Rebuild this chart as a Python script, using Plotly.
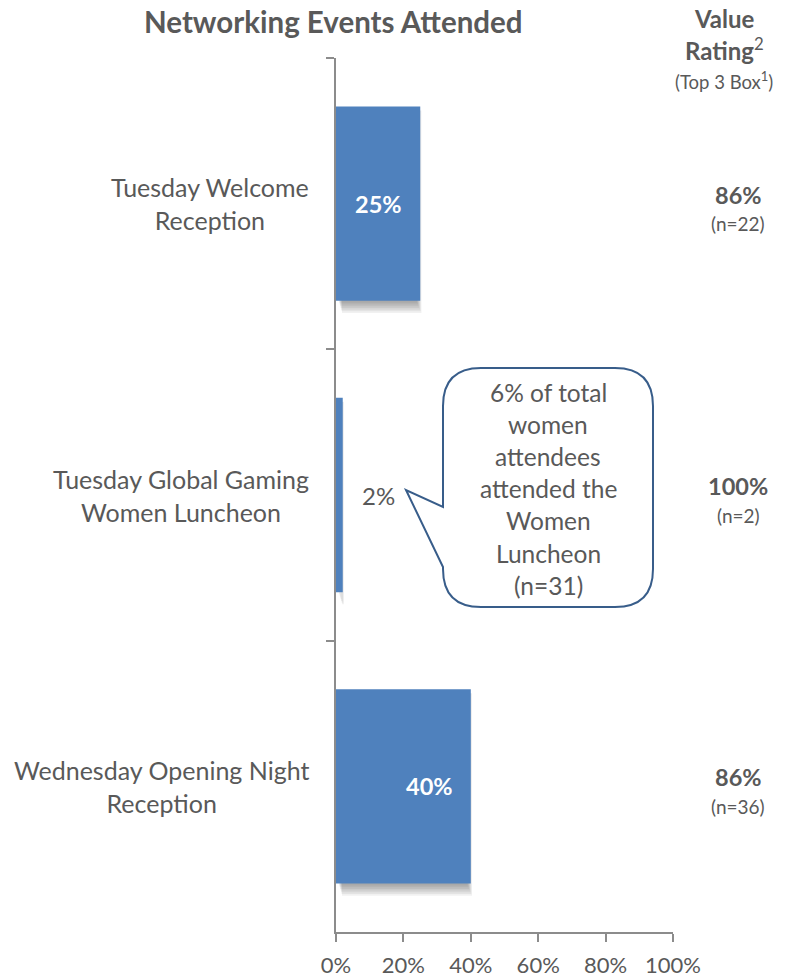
import plotly.graph_objects as go

# Share of attendees at each networking event
events = ["Tuesday Welcome<br>Reception",
          "Tuesday Global Gaming<br>Women Luncheon",
          "Wednesday Opening Night<br>Reception"]
attended = [25, 2, 40]
value_rating = ["86%", "100%", "86%"]
rating_n = ["(n=22)", "(n=2)", "(n=36)"]
x_ticks = [0, 20, 40, 60, 80, 100]
x_tick_text = ["0%", "20%", "40%", "60%", "80%", "100%"]
callout_lines = ["6% of total", "women", "attendees", "attended the",
                 "Women", "Luncheon", "(n=31)"]

W, H = 788, 978
L, R, T, B = 336, 115, 58, 46
PW, PH = W - L - R, H - T - B
FONT = "Lato"
GREY = "#595959"
BLUE = "#4F81BD"
AXIS = "#8C8C8C"
BAR_W = 0.667


def px(x):
    return (x - L) / PW


def py(y):
    return (H - B - y) / PH


fig = go.Figure()
fig.add_trace(go.Bar(
    y=events, x=attended, orientation="h", width=BAR_W,
    marker=dict(color=BLUE, line=dict(width=0)),
    hoverinfo="skip",
))

# soft drop shadow beneath each bar: stacked translucent strips
n = len(events)
unit_x = PW / 100
for i, v in enumerate(attended):
    top = 1 - (i + 0.5 - BAR_W / 2) / n
    bottom = 1 - (i + 0.5 + BAR_W / 2) / n
    for k in range(7):
        fig.add_shape(
            type="rect", layer="below", xref="x", yref="paper",
            x0=(3 + k * 0.5) / unit_x, x1=v + (k * 0.7 - 3) / unit_x,
            y0=top - 4 / PH, y1=bottom - (2 + k * 1.7) / PH,
            fillcolor="rgba(0,0,0,0.055)", line=dict(width=0),
        )

annotations = []
# value labels on bars
for name, v in zip(events, attended):
    if v >= 10:
        annotations.append(dict(
            x=v, y=name, xref="x", yref="y", text=f"<b>{v}%</b>",
            xanchor="right", xshift=-16, showarrow=False,
            font=dict(family=FONT, size=23.5, color="white")))
    else:
        annotations.append(dict(
            x=v, y=name, xref="x", yref="y", text=f"{v}%",
            xanchor="left", xshift=17, showarrow=False,
            font=dict(family=FONT, size=24, color=GREY)))

# category labels
for name in events:
    annotations.append(dict(
        x=px(311), y=name, xref="paper", yref="y", text=name,
        xanchor="right", align="center", showarrow=False,
        font=dict(family=FONT, size=25, color=GREY)))

# value rating column
for name, r, nn in zip(events, value_rating, rating_n):
    annotations.append(dict(
        x=px(738), y=name, xref="paper", yref="y", text=f"<b>{r}</b>",
        xanchor="center", yshift=9, showarrow=False,
        font=dict(family=FONT, size=23.5, color=GREY)))
    annotations.append(dict(
        x=px(738), y=name, xref="paper", yref="y", text=nn,
        xanchor="center", yshift=-20, showarrow=False,
        font=dict(family=FONT, size=19, color=GREY)))

annotations += [
    dict(x=px(333), y=py(22), xref="paper", yref="paper",
         xanchor="center", yanchor="middle",
         text="<b>Networking Events Attended</b>", showarrow=False,
         font=dict(family=FONT, size=29.5, color=GREY)),
    dict(x=px(724), y=py(19), xref="paper", yref="paper",
         xanchor="center", yanchor="middle",
         text="<b>Value</b>", showarrow=False,
         font=dict(family=FONT, size=24, color=GREY)),
    dict(x=px(724), y=py(49), xref="paper", yref="paper",
         xanchor="center", yanchor="middle",
         text="<b>Rating</b><sup>2</sup>", showarrow=False,
         font=dict(family=FONT, size=24, color=GREY)),
    dict(x=px(724), y=py(80), xref="paper", yref="paper",
         xanchor="center", yanchor="middle",
         text="(Top 3 Box<sup>1</sup>)", showarrow=False,
         font=dict(family=FONT, size=18.5, color=GREY)),
]

# callout bubble text
for j, line in enumerate(callout_lines):
    annotations.append(dict(
        x=px(548), y=py(392 + j * 32.2), xref="paper", yref="paper",
        xanchor="center", yanchor="middle", text=line, showarrow=False,
        font=dict(family=FONT, size=24.5, color=GREY)))

# callout bubble outline with pointer
x0, x1, y0, y1, r = 443, 653, 368, 607, 38
tip = (406, 490)
base_top, base_bot = 507, 567
pts = [
    ("M", (x0 + r, y0)),
    ("L", (x1 - r, y0)),
    ("Q", (x1, y0), (x1, y0 + r)),
    ("L", (x1, y1 - r)),
    ("Q", (x1, y1), (x1 - r, y1)),
    ("L", (x0 + r, y1)),
    ("Q", (x0, y1), (x0, y1 - r)),
    ("L", (x0, base_bot)),
    ("L", tip),
    ("L", (x0, base_top)),
    ("L", (x0, y0 + r)),
    ("Q", (x0, y0), (x0 + r, y0)),
]
path = ""
for cmd, *coords in pts:
    path += cmd + " " + " ".join(f"{px(a):.5f},{py(b):.5f}" for a, b in coords) + " "
path += "Z"
fig.add_shape(type="path", path=path, xref="paper", yref="paper",
              fillcolor="white", line=dict(color="#385D8A", width=2),
              layer="above")

fig.update_layout(
    width=W, height=H, margin=dict(l=L, r=R, t=T, b=B),
    paper_bgcolor="white", plot_bgcolor="white",
    showlegend=False,
    annotations=annotations,
    font=dict(family=FONT, color=GREY),
)
fig.update_xaxes(
    range=[0, 100], tickvals=x_ticks, ticktext=x_tick_text, automargin=False,
    showgrid=False, zeroline=False, showline=True, linecolor=AXIS,
    linewidth=2, ticks="outside", ticklen=8, tickcolor=AXIS, tickwidth=2,
    ticklabelstandoff=5,
    tickfont=dict(family=FONT, size=22, color=GREY), fixedrange=True,
)
fig.update_yaxes(
    categoryorder="array", categoryarray=events,
    range=[n - 0.5, -0.5], automargin=False,
    showticklabels=False, showgrid=False, zeroline=False, showline=True,
    linecolor=AXIS, linewidth=2, ticks="outside", ticklen=8,
    tickcolor=AXIS, tickwidth=2, tickson="boundaries",
)

fig.write_html("out.html")
